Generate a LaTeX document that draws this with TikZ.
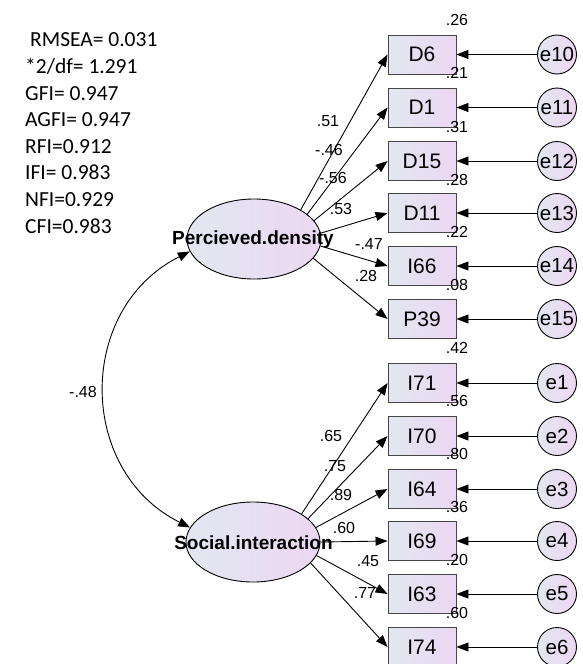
\documentclass[tikz,border=0pt]{standalone}
\usepackage{fontspec}
\setmainfont{Liberation Sans}
\newfontfamily\fitfont{Carlito}
\usetikzlibrary{arrows.meta,shapes.geometric}
\definecolor{lc}{RGB}{226,231,241}
\definecolor{rc}{RGB}{236,215,242}
\definecolor{bd}{RGB}{70,70,70}
\begin{document}
\begin{tikzpicture}[x=1pt,y=-1pt,
 obs/.style={draw=bd, line width=0.9pt, left color=lc, right color=rc, minimum width=68pt, minimum height=39pt, inner sep=0pt, font=\fontsize{21}{21}\selectfont},
 err/.style={circle, draw=black, line width=0.9pt, left color=lc, right color=rc, minimum size=39pt, inner sep=0pt, font=\fontsize{20.5}{20.5}\selectfont},
 lat/.style={ellipse, draw=black, line width=0.9pt, left color=lc, right color=rc, minimum width=134pt, minimum height=80pt, inner sep=0pt},
 latlab/.style={font=\fontsize{19}{19}\selectfont\bfseries, inner sep=0pt},
 coef/.style={font=\fontsize{16}{16}\selectfont, inner sep=0pt},
 tip/.tip={Triangle[length=12pt,width=9pt]},
 arr/.style={-tip, line width=0.9pt},
]
\useasboundingbox[fill=white] (0,0) rectangle (582,664);

% fit statistics
\node[anchor=base west, inner sep=0pt, align=left, font=\fitfont\fontsize{21.5}{26.6}\selectfont] (fit) at (25,233)
 {\hspace{5pt}RMSEA= 0.031\\ *2/df= 1.291\\ GFI= 0.947\\ AGFI= 0.947\\ RFI=0.912\\ IFI= 0.983\\ NFI=0.929\\ CFI=0.983};

% latent variables
\node[lat] (pd) at (254,239) {};
\node[latlab] (pdlab) at (253,240) {Percieved.density};
\node[lat] (si) at (253,542) {};
\node[latlab] (silab) at (253.5,543) {Social.interaction};

% observed variables
\foreach \n/\t/\y in {d6/D6/54.5, d1/D1/107.5, d15/D15/161, d11/D11/213, i66/I66/266, p39/P39/319,
                      i71/I71/383, i70/I70/436, i64/I64/489, i69/I69/541, i63/I63/594, i74/I74/647}
  \node[obs] (\n) at (422,\y) {\t};

% error terms
\foreach \n/\t/\y in {e10/e10/54.5, e11/e11/107.5, e12/e12/161, e13/e13/213, e14/e14/266, e15/e15/319,
                      e1/e1/383, e2/e2/436, e3/e3/489, e4/e4/541, e5/e5/594, e6/e6/647}
  \node[err] (\n) at (557,\y) {\t};

% error arrows
\foreach \e/\o in {e10/d6, e11/d1, e12/d15, e13/d11, e14/i66, e15/p39, e1/i71, e2/i70, e3/i64, e4/i69, e5/i63, e6/i74}
  \draw[arr] (\e) -- (\o.east);

% loadings
\foreach \a/\o in {32/d6, 25/d1, 17/d15, 5/d11, -6/i66, -18/p39}
  \draw[arr] (pd.\a) -- (\o.west);
\foreach \a/\o in {30/i71, 23/i70, 13/i64, 0/i69, -12/i63, -20/i74}
  \draw[arr] (si.\a) -- (\o.west);

% covariance
\draw[tip-tip, line width=0.9pt] (pd.191) .. controls +(-113.6,56.8) and +(-113.6,-56.8) .. (si.167);
\node[coef] (cov) at (83,392) {-.48};

% loading labels
\node[coef] (l1) at (328,121) {.51};
\node[coef] (l2) at (329,150) {-.46};
\node[coef] (l3) at (333,178) {-.56};
\node[coef] (l4) at (341,209) {.53};
\node[coef] (l5) at (369,244) {-.47};
\node[coef] (l6) at (366,276) {.28};
\node[coef] (l7) at (331,436) {.65};
\node[coef] (l8) at (335,466) {.75};
\node[coef] (l9) at (341,495) {.89};
\node[coef] (l10) at (344,528) {.60};
\node[coef] (l11) at (368,561) {.45};
\node[coef] (l12) at (365,593) {.77};

% squared multiple correlations
\foreach \n/\t/\y in {r1/.26/20, r2/.21/73, r3/.31/127, r4/.28/180, r5/.22/232, r6/.08/285,
                      r7/.42/348, r8/.56/401, r9/.80/454, r10/.36/507, r11/.20/560, r12/.60/613}
  \node[coef] (\n) at (457,\y) {\t};
\end{tikzpicture}
\end{document}
